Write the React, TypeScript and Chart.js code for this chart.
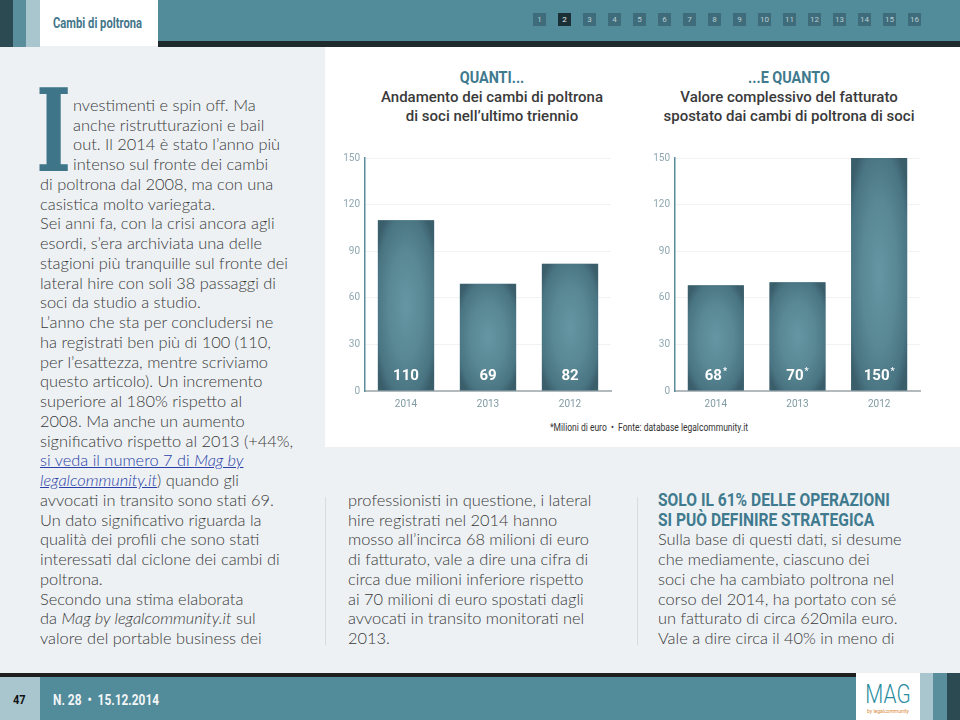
import React, { useEffect, useRef } from "react";
import { Chart, registerables } from "chart.js";

Chart.register(...registerables);

// ---------- data ----------
const years = ["2014", "2013", "2012"];
const moves = [110, 69, 82]; // cambi di poltrona (numero di soci)
const revenue = [68, 70, 150]; // fatturato spostato, milioni di euro
const yTicks = [0, 30, 60, 90, 120, 150];
const pageNumbers = ["1", "2", "3", "4", "5", "6", "7", "8", "9", "10", "11", "12", "13", "14", "15", "16"];
const activePage = "2";

const leftLines = [
  "nvestimenti e spin off. Ma",
  "anche ristrutturazioni e bail",
  "out. Il 2014 è stato l’anno più",
  "intenso sul fronte dei cambi",
  "di poltrona dal 2008, ma con una",
  "casistica molto variegata.",
  "Sei anni fa, con la crisi ancora agli",
  "esordi, s’era archiviata una delle",
  "stagioni più tranquille sul fronte dei",
  "lateral hire con soli 38 passaggi di",
  "soci da studio a studio.",
  "L’anno che sta per concludersi ne",
  "ha registrati ben più di 100 (110,",
  "per l’esattezza, mentre scriviamo",
  "questo articolo). Un incremento",
  "superiore al 180% rispetto al",
  "2008. Ma anche un aumento",
  "significativo rispetto al 2013 (+44%,",
  "{l:si veda il numero 7 di }{li:Mag by }",
  "{li:legalcommunity.it}) quando gli",
  "avvocati in transito sono stati 69.",
  "Un dato significativo riguarda la",
  "qualità dei profili che sono stati",
  "interessati dal ciclone dei cambi di",
  "poltrona.",
  "Secondo una stima elaborata",
  "da {i:Mag by legalcommunity.it} sul",
  "valore del portable business dei",
];

const midLines = [
  "professionisti in questione, i lateral",
  "hire registrati nel 2014 hanno",
  "mosso all’incirca 68 milioni di euro",
  "di fatturato, vale a dire una cifra di",
  "circa due milioni inferiore rispetto",
  "ai 70 milioni di euro spostati dagli",
  "avvocati in transito monitorati nel",
  "2013.",
];

const rightHeading = ["SOLO IL 61% DELLE OPERAZIONI", "SI PUÒ DEFINIRE STRATEGICA"];
const rightLines = [
  "Sulla base di questi dati, si desume",
  "che mediamente, ciascuno dei",
  "soci che ha cambiato poltrona nel",
  "corso del 2014, ha portato con sé",
  "un fatturato di circa 620mila euro.",
  "Vale a dire circa il 40% in meno di",
];

const chart1Title = ["QUANTI...", "Andamento dei cambi di poltrona", "di soci nell’ultimo triennio"];
const chart2Title = ["...E QUANTO", "Valore complessivo del fatturato", "spostato dai cambi di poltrona di soci"];
const footnote = "*Milioni di euro  •  Fonte: database legalcommunity.it";

// ---------- styling constants ----------
const TEAL = "#528b9a";
const TEAL_DARK = "#2b4a52";
const TEAL_MID = "#5b8e9c";
const TEAL_LIGHT = "#a9c5cd";
const HEAD_TEAL = "#3f7a8e";
const BODY_TEXT = "#3a3a3a";
const LINE_H = 19.74;

// ---------- bar plugin: vignette fill + value labels ----------
const barStyle = {
  id: "barStyle",
  afterDatasetsDraw(chart: any, _args: any, opts: any) {
    const ctx = chart.ctx as CanvasRenderingContext2D;
    const meta = chart.getDatasetMeta(0);
    const values = chart.data.datasets[0].data as number[];
    meta.data.forEach((bar: any, i: number) => {
      const { x, y, base, width } = bar.getProps(["x", "y", "base", "width"], true);
      const left = x - width / 2;
      const top = Math.min(y, base);
      const h = Math.abs(base - y);
      ctx.save();
      ctx.beginPath();
      ctx.rect(left, top, width, h);
      ctx.clip();
      ctx.translate(x, top + h / 2);
      ctx.scale(width / 2, h / 2);
      const g = ctx.createRadialGradient(0, 0, 0, 0, 0, 1.25);
      g.addColorStop(0, "#6596a3");
      g.addColorStop(0.5, "#5a8895");
      g.addColorStop(0.85, "#497482");
      g.addColorStop(1, "#3b5e6b");
      ctx.fillStyle = g;
      ctx.fillRect(-1, -1, 2, 2);
      ctx.restore();

      // value label
      ctx.save();
      ctx.fillStyle = "#ffffff";
      ctx.textBaseline = "middle";
      const num = String(values[i]);
      ctx.font = "bold 15px Roboto";
      const wNum = ctx.measureText(num).width;
      let wStar = 0;
      if (opts && opts.star) {
        ctx.font = "bold 9px Roboto";
        wStar = ctx.measureText("*").width + 1;
      }
      const startX = x - (wNum + wStar) / 2;
      const ly = base - 14;
      ctx.font = "bold 15px Roboto";
      ctx.textAlign = "left";
      ctx.fillText(num, startX, ly);
      if (opts && opts.star) {
        ctx.font = "bold 9px Roboto";
        ctx.fillText("*", startX + wNum + 1, ly - 5);
      }
      ctx.restore();
    });
  },
};

function makeConfig(values: number[], star: boolean, padRight: number): any {
  return {
    type: "bar",
    data: {
      labels: years,
      datasets: [
        {
          data: values,
          backgroundColor: "#4a7584",
          borderWidth: 0,
          categoryPercentage: 1,
          barPercentage: 0.687,
        },
      ],
    },
    options: {
      responsive: false,
      animation: false,
      devicePixelRatio: 1,
      events: [],
      layout: { padding: { top: 18, right: padRight, left: 0, bottom: 0 } },
      plugins: {
        legend: { display: false },
        tooltip: { enabled: false },
        title: { display: false },
        barStyle: { star },
      },
      scales: {
        x: {
          grid: { display: false, drawTicks: false },
          border: { color: "#b3babd", width: 2 },
          ticks: { color: "#7f9aa3", font: { family: "Roboto", size: 10 }, padding: 7 },
          afterFit: (s: any) => {
            s.height = 24;
          },
        },
        y: {
          min: 0,
          max: 150,
          afterBuildTicks: (s: any) => {
            s.ticks = yTicks.map((v) => ({ value: v }));
          },
          ticks: { color: "#8ea8b1", font: { family: "Roboto", size: 10 }, padding: 5 },
          grid: { color: "#f0f2f3", drawTicks: false, lineWidth: 1 },
          border: { color: "#5b8c9b", width: 1.5 },
          afterFit: (s: any) => {
            s.width = 35;
          },
        },
      },
    },
    plugins: [barStyle],
  };
}

function BarChart(props: { values: number[]; star: boolean; left: number; padRight: number }) {
  const ref = useRef<HTMLCanvasElement | null>(null);
  useEffect(() => {
    if (!ref.current) return;
    const chart = new Chart(ref.current, makeConfig(props.values, props.star, props.padRight));
    return () => chart.destroy();
  }, []);
  return (
    <canvas
      ref={ref}
      width={290}
      height={275}
      style={{ position: "absolute", left: props.left, top: 140, width: 290, height: 275 }}
    />
  );
}

// ---------- simple markup renderer for text lines ----------
function renderLine(line: string) {
  const parts: React.ReactNode[] = [];
  const re = /\{(\w+):([^}]*)\}/g;
  let last = 0;
  let m: RegExpExecArray | null;
  let k = 0;
  while ((m = re.exec(line))) {
    if (m.index > last) parts.push(<span key={k++}>{line.slice(last, m.index)}</span>);
    const kind = m[1];
    const txt = m[2];
    const style: React.CSSProperties = {};
    if (kind.includes("i")) style.fontStyle = "italic";
    if (kind.includes("l")) {
      style.color = "#2b3fa8";
      style.textDecoration = "underline";
    }
    parts.push(
      <span key={k++} style={style}>
        {txt}
      </span>
    );
    last = m.index + m[0].length;
  }
  if (last < line.length) parts.push(<span key={k++}>{line.slice(last)}</span>);
  return parts;
}

const bodyFont: React.CSSProperties = {
  fontFamily: "Lato, 'Open Sans', sans-serif",
  fontSize: 16.4,
  fontWeight: 300,
  color: BODY_TEXT,
  whiteSpace: "nowrap",
  position: "absolute",
  height: 20,
  lineHeight: "20px",
};

function TextLines(props: { lines: string[]; x: number; firstCenter: number; indent?: number; indentCount?: number }) {
  return (
    <>
      {props.lines.map((l, i) => (
        <div
          key={i}
          style={{
            ...bodyFont,
            left: props.x + (props.indentCount && i < props.indentCount ? props.indent || 0 : 0),
            top: props.firstCenter + i * LINE_H - 10,
          }}
        >
          {renderLine(l)}
        </div>
      ))}
    </>
  );
}

function ChartTitle(props: { lines: string[]; cx: number }) {
  return (
    <>
      <div
        style={{
          position: "absolute",
          left: props.cx - 150,
          width: 300,
          top: 68,
          textAlign: "center",
          fontFamily: "Roboto",
          fontWeight: 700,
          fontSize: 16,
          lineHeight: "20px",
          color: HEAD_TEAL,
          transform: "scaleX(0.9)",
        }}
      >
        {props.lines[0]}
      </div>
      {props.lines.slice(1).map((l, i) => (
        <div
          key={i}
          style={{
            position: "absolute",
            left: props.cx - 150,
            width: 300,
            top: 87 + i * 19,
            textAlign: "center",
            fontFamily: "Roboto",
            fontWeight: 500,
            fontSize: 15,
            lineHeight: "20px",
            color: "#3a3a3a",
            whiteSpace: "nowrap",
          }}
        >
          {l}
        </div>
      ))}
    </>
  );
}

export default function App() {
  useEffect(() => {
    document.body.style.margin = "0";
  }, []);

  const abs = (s: React.CSSProperties): React.CSSProperties => ({ position: "absolute", ...s });

  return (
    <div
      style={{
        position: "absolute",
        left: 0,
        top: 0,
        width: 960,
        height: 720,
        overflow: "hidden",
        background: "#edf1f4",
        fontFamily: "Lato, sans-serif",
      }}
    >
      {/* ---------- header ---------- */}
      <div style={abs({ left: 0, top: 0, width: 13, height: 47, background: TEAL_DARK })} />
      <div style={abs({ left: 13, top: 0, width: 13, height: 47, background: TEAL_MID })} />
      <div style={abs({ left: 26, top: 0, width: 14, height: 47, background: TEAL_LIGHT })} />
      <div style={abs({ left: 40, top: 0, width: 118, height: 46, background: "#ffffff" })} />
      <div
        style={abs({
          left: 53,
          top: 13,
          fontFamily: "Roboto",
          fontWeight: 700,
          fontSize: 14,
          lineHeight: "20px",
          color: "#44768a",
          whiteSpace: "nowrap",
          transform: "scaleX(0.8)",
          transformOrigin: "left center",
        })}
      >
        Cambi di poltrona
      </div>
      <div style={abs({ left: 158, top: 0, width: 802, height: 41, background: TEAL })} />
      <div style={abs({ left: 158, top: 41, width: 802, height: 6, background: "#1f2a2d" })} />
      {pageNumbers.map((p, i) => (
        <div
          key={p}
          style={abs({
            left: 533 + i * 25,
            top: 13,
            width: 13,
            height: 13,
            background: p === activePage ? "#1a2f36" : "#3f6c7b",
            color: p === activePage ? "#e8eef0" : "#b9cdd3",
            fontFamily: "Roboto",
            fontSize: 8,
            lineHeight: "13px",
            textAlign: "center",
          })}
        >
          {p}
        </div>
      ))}

      {/* ---------- chart panel ---------- */}
      <div style={abs({ left: 325, top: 47, width: 635, height: 400, background: "#ffffff" })} />
      <ChartTitle lines={chart1Title} cx={492} />
      <ChartTitle lines={chart2Title} cx={789} />
      <BarChart values={moves} star={false} left={330} padRight={9} />
      <BarChart values={revenue} star={true} left={640} padRight={10} />
      <div
        style={abs({
          left: 449,
          width: 400,
          top: 419,
          textAlign: "center",
          fontFamily: "Roboto",
          fontSize: 10,
          lineHeight: "18px",
          color: "#333",
          whiteSpace: "pre",
          transform: "scaleX(0.85)",
        })}
      >
        {footnote}
      </div>

      {/* ---------- left column ---------- */}
      <div
        style={abs({
          left: 36,
          top: 74,
          fontFamily: "'DejaVu Serif', serif",
          fontWeight: 700,
          fontSize: 114,
          lineHeight: "114px",
          color: "#3f7589",
          transform: "scaleX(0.66)",
          transformOrigin: "left top",
        })}
      >
        I
      </div>
      <TextLines lines={leftLines} x={40} firstCenter={105} indent={33} indentCount={4} />

      {/* separators */}
      <div style={abs({ left: 325, top: 497, width: 1, height: 148, background: "#d6dde1" })} />
      <div style={abs({ left: 637, top: 497, width: 1, height: 148, background: "#d6dde1" })} />

      {/* ---------- middle column ---------- */}
      <TextLines lines={midLines} x={348} firstCenter={500} />

      {/* ---------- right column ---------- */}
      {rightHeading.map((h, i) => (
        <div
          key={h}
          style={abs({
            left: 658,
            top: 500 + i * LINE_H - 11,
            fontFamily: "Roboto",
            fontWeight: 700,
            fontSize: 19,
            lineHeight: "22px",
            color: HEAD_TEAL,
            whiteSpace: "nowrap",
            transform: "scaleX(0.82)",
            transformOrigin: "left center",
          })}
        >
          {h}
        </div>
      ))}
      <TextLines lines={rightLines} x={658} firstCenter={500 + 2 * LINE_H} />

      {/* ---------- footer ---------- */}
      <div style={abs({ left: 0, top: 673, width: 856, height: 4, background: "#1e1e1e" })} />
      <div style={abs({ left: 0, top: 677, width: 40, height: 43, background: TEAL_LIGHT })} />
      <div style={abs({ left: 40, top: 677, width: 816, height: 43, background: TEAL })} />
      <div
        style={abs({
          left: 13,
          top: 690,
          fontFamily: "Roboto",
          fontWeight: 700,
          fontSize: 13,
          lineHeight: "20px",
          color: "#111",
          transform: "scaleX(0.85)",
          transformOrigin: "left center",
        })}
      >
        47
      </div>
      <div
        style={abs({
          left: 53,
          top: 690,
          fontFamily: "Roboto",
          fontWeight: 700,
          fontSize: 14,
          lineHeight: "20px",
          color: "#f2f6f7",
          whiteSpace: "pre",
          transform: "scaleX(0.85)",
          transformOrigin: "left center",
        })}
      >
        {"N. 28  •  15.12.2014"}
      </div>
      <div style={abs({ left: 856, top: 673, width: 64, height: 47, background: "#ffffff" })} />
      <div
        style={abs({
          left: 856,
          width: 64,
          top: 680,
          textAlign: "center",
          fontFamily: "Roboto",
          fontWeight: 300,
          fontSize: 26,
          lineHeight: "28px",
          color: "#2a8ca0",
          transform: "scaleX(0.8)",
        })}
      >
        MAG
      </div>
      <div
        style={abs({
          left: 856,
          width: 64,
          top: 707,
          textAlign: "center",
          fontFamily: "Roboto",
          fontSize: 5,
          lineHeight: "8px",
          color: "#d98a3a",
        })}
      >
        by legalcommunity
      </div>
      <div style={abs({ left: 920, top: 673, width: 13, height: 47, background: TEAL_LIGHT })} />
      <div style={abs({ left: 933, top: 673, width: 14, height: 47, background: TEAL_MID })} />
      <div style={abs({ left: 947, top: 673, width: 13, height: 47, background: TEAL_DARK })} />
    </div>
  );
}
